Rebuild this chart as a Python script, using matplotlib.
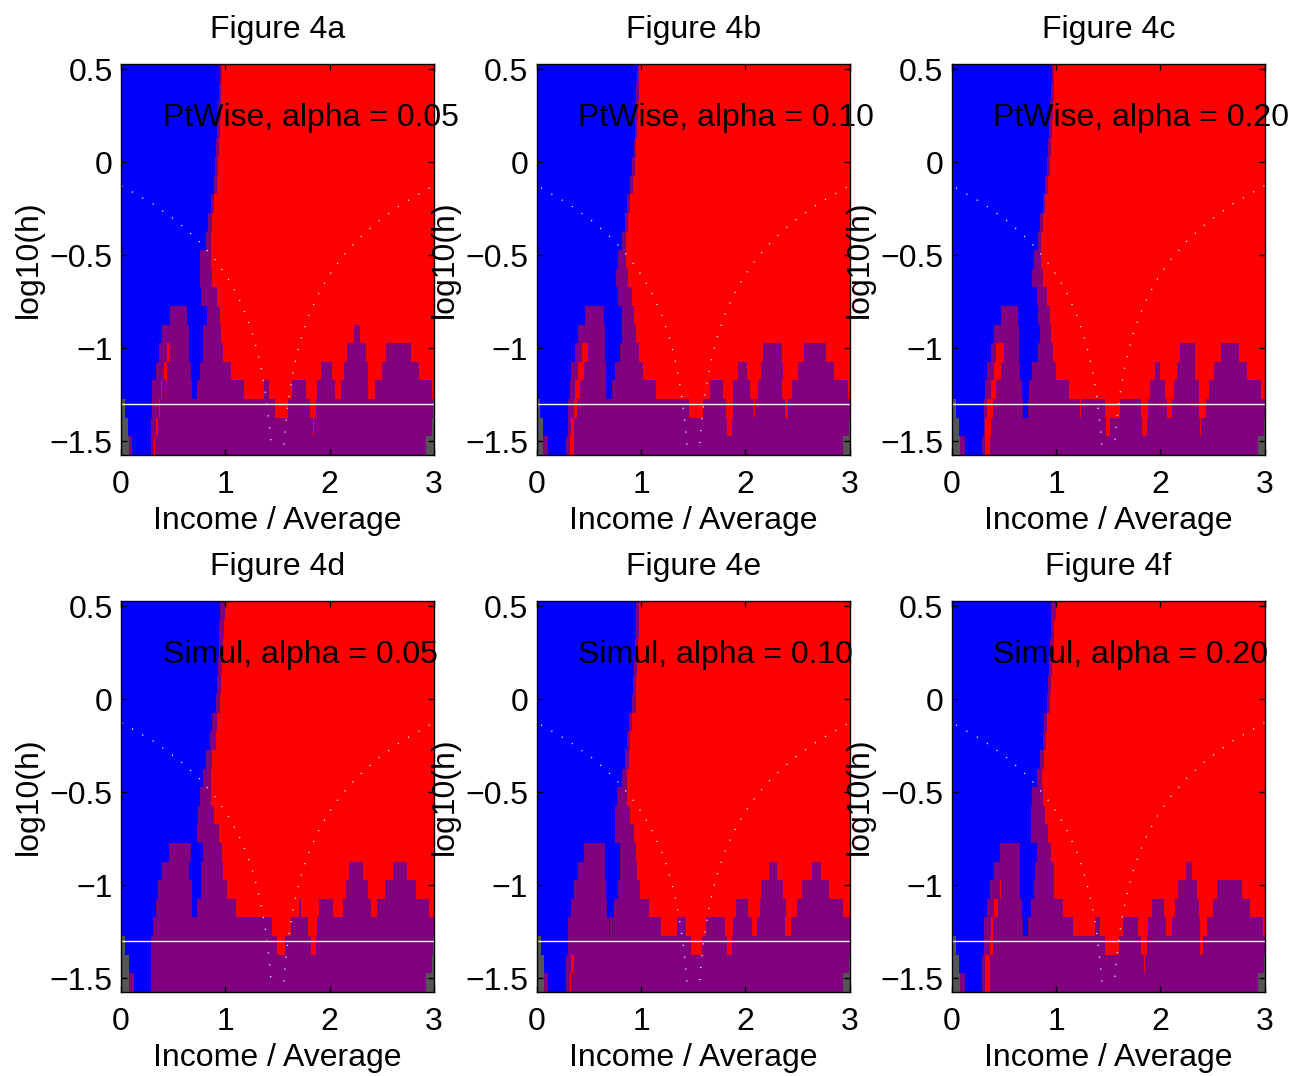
import numpy as np
import matplotlib
matplotlib.use("Agg")
import matplotlib.pyplot as plt
from matplotlib.colors import ListedColormap

plt.rcParams['font.family'] = ['Liberation Sans', 'DejaVu Sans']

# SiZer maps, one string per bandwidth row, largest h first.
# "B .95 P .97 R" = blue up to x=0.95, purple up to 0.97, red to the end
# G gray (too few data), B increasing, P not significant, R decreasing
MAP_4A = [
    "B .95 P .97 R", "B .94 P .96 R", "B .93 P .96 R", "B .92 P .95 R",
    "B .91 P .94 R", "B .90 P .93 R", "B .89 P .92 R", "B .86 P .89 R",
    "B .83 P .87 R", "B .81 P .86 R", "B .76 P .86 R", "B .76 P .87 R",
    "B .77 P .92 R",
    "B .47 P .63 B .82 P .95 R",
    "B .39 P .65 B .79 P .96 R 2.23 P 2.29 R",
    "B .36 P .44 R .47 P .65 B .79 P .98 R 2.17 P 2.35 R 2.54 P 2.78 R",
    "B .34 P .41 R .44 P .67 B .76 P 1.05 R 1.92 P 2.02 R 2.14 P 2.37 R 2.50 P 2.86 R",
    "G .01 B .30 P .38 R .39 P .68 B .73 P 1.18 R 1.37 P 1.42 R 1.64 P 1.77 R 1.88 P 2.05 R 2.11 P 2.37 R 2.43 P 2.98 R",
    "G .04 B .30 P .36 R .37 P 1.48 R 1.60 P 1.81 R 1.87 P 2.99 G",
    "G .07 B .29 P .34 R .35 P 1.84 R 1.85 P 2.98 G",
    "G .08 P .11 B .29 P .32 R .33 P 2.92 G",
]
MAP_4B = [
    "B .96 P .98 R", "B .95 P .98 R", "B .94 P .97 R", "B .94 P .96 R",
    "B .93 P .95 R", "B .91 P .94 R", "B .89 P .92 R", "B .86 P .89 R",
    "B .84 P .87 R", "B .81 P .85 R", "B .78 P .85 R", "B .76 P .87 R",
    "B .78 P .91 R",
    "B .46 P .64 B .81 P .93 R",
    "B .39 P .65 B .81 P .95 R",
    "B .36 P .43 R .49 P .65 B .80 P .98 R 2.17 P 2.35 R 2.56 P 2.77 R",
    "B .33 P .39 R .45 P .66 B .75 P 1.02 R 1.93 P 2.01 R 2.15 P 2.36 R 2.50 P 2.85 R",
    "B .32 P .36 R .41 P .66 B .72 P 1.14 R 1.66 P 1.78 R 1.88 P 2.04 R 2.12 P 2.35 R 2.44 P 2.98 R",
    "G .03 B .30 P .35 R .38 P 1.46 R 1.59 P 1.81 R 1.88 P 2.08 R 2.09 P 2.38 R 2.41 P",
    "G .06 B .30 P .33 R .35 P 1.82 R 1.87 P 2.99 G",
    "G .06 P .11 B .28 P .32 R .35 P 2.93 G",
]
MAP_4C = [
    "B .96 P .98 R", "B .95 P .98 R", "B .94 P .97 R", "B .93 P .96 R",
    "B .92 P .95 R", "B .91 P .94 R", "B .89 P .92 R", "B .87 P .89 R",
    "B .84 P .87 R", "B .82 P .85 R", "B .79 P .85 R", "B .77 P .87 R",
    "B .81 P .91 R",
    "B .47 P .63 B .82 P .94 R",
    "B .40 P .64 B .84 P .95 R",
    "B .37 P .42 R .50 P .64 B .82 P .97 R 2.19 P 2.33 R 2.58 P 2.75 R",
    "B .34 P .40 R .47 P .65 B .77 P 1.00 R 1.95 P 1.99 R 2.16 P 2.33 R 2.51 P 2.83 R",
    "B .32 P .37 R .42 P .67 B .74 P 1.12 R 1.90 P 2.04 R 2.13 P 2.37 R 2.46 P 2.96 R",
    "G .04 B .31 P .34 R .39 P .68 B .73 P 1.23 R 1.24 P 1.47 R 1.61 P 1.81 R 1.88 P 2.06 R 2.11 P 2.37 R 2.43 P",
    "G .07 B .31 P .32 R .37 P 1.48 R 1.51 P 1.82 R 1.87 P 2.38 R 2.39 P 2.99 G",
    "G .08 P .12 B .29 P .32 R .36 P 2.93 G",
]
MAP_4D = [
    "B .95 P 1.00 R", "B .94 P .99 R", "B .94 P .98 R", "B .93 P .97 R",
    "B .92 P .96 R", "B .91 P .95 R", "B .87 P .92 R", "B .85 P .91 R",
    "B .81 P .87 R", "B .79 P .86 R", "B .76 P .86 R", "B .74 P .89 R",
    "B .73 P .94 R",
    "B .46 P .67 B .79 P .97 R",
    "B .39 P .65 B .77 P .98 R 2.19 P 2.32 R 2.61 P 2.74 R",
    "B .35 P .68 B .77 P 1.02 R 2.16 P 2.37 R 2.53 P 2.83 R",
    "B .34 P .68 B .73 P 1.10 R 1.71 P 1.73 R 1.90 P 2.03 R 2.13 P 2.40 R 2.45 P 2.95 R",
    "G .01 B .31 P 1.45 R 1.63 P 1.79 R 1.88 P",
    "G .04 B .29 P 1.50 R 1.57 P 1.82 R 1.87 P 2.99 G",
    "G .08 B .29 P 2.98 G",
    "G .08 P .12 B .29 P 2.92 G",
]
MAP_4E = [
    "B .95 P .98 R", "B .95 P .98 R", "B .94 P .97 R", "B .93 P .96 R",
    "B .92 P .95 R", "B .91 P .95 R", "B .88 P .91 R", "B .86 P .89 R",
    "B .84 P .88 R", "B .81 P .86 R", "B .77 P .86 R", "B .75 P .89 R",
    "B .75 P .93 R",
    "B .45 P .65 B .80 P .95 R",
    "B .39 P .65 B .80 P .96 R 2.22 P 2.30 R 2.64 P 2.72 R",
    "B .35 P .66 B .78 P .99 R 2.15 P 2.36 R 2.54 P 2.80 R",
    "B .33 P .67 B .74 P 1.07 R 1.91 P 2.02 R 2.14 P 2.39 R 2.49 P 2.93 R",
    "B .30 P .69 B .70 P 1.19 R 1.34 P 1.43 R 1.62 P 1.80 R 1.88 P 2.06 R 2.11 P 2.38 R 2.43 P",
    "G .04 B .30 P 1.48 R 1.58 P 1.82 R 1.87 P",
    "G .07 B .28 P .33 R .35 P 2.99 G",
    "G .07 P .11 B .28 P .32 R .33 P 2.93 G",
]
MAP_4F = [
    "B .95 P 1.00 R", "B .95 P .98 R", "B .94 P .98 R", "B .93 P .96 R",
    "B .92 P .95 R", "B .91 P .94 R", "B .88 P .91 R", "B .87 P .90 R",
    "B .84 P .88 R", "B .81 P .86 R", "B .77 P .87 R", "B .76 P .89 R",
    "B .76 P .92 R",
    "B .46 P .65 B .81 P .95 R",
    "B .40 P .65 B .80 P .98 R 2.24 P 2.30 R",
    "B .36 P .46 R .47 P .65 B .79 P .98 R 2.17 P 2.35 R 2.54 P 2.78 R",
    "B .34 P .40 R .44 P .67 B .76 P 1.06 R 1.92 P 2.03 R 2.14 P 2.37 R 2.50 P 2.86 R",
    "B .31 P .37 R .39 P .68 B .73 P 1.16 R 1.37 P 1.42 R 1.64 P 1.78 R 1.88 P 2.05 R 2.11 P 2.38 R 2.44 P 2.98 R",
    "G .04 B .31 P .36 R .39 P 1.47 R 1.60 P 1.81 R 1.87 P 2.38 R 2.41 P",
    "G .07 B .29 P .32 R .36 P 1.84 R 1.85 P 2.99 G",
    "G .08 P .12 B .29 P .32 R .36 P 2.93 G",
]

TITLES = ["Figure 4a", "Figure 4b", "Figure 4c", "Figure 4d", "Figure 4e", "Figure 4f"]
NOTES = ["PtWise, alpha = 0.05", "PtWise, alpha = 0.10", "PtWise, alpha = 0.20",
         "Simul, alpha = 0.05", "Simul, alpha = 0.10", "Simul, alpha = 0.20"]

H_MIN, H_MAX, N_H = 0.03, 3.0, 21      # bandwidth grid
X_MIN, X_MAX = 0.0, 3.0
H_LINE = 0.05                          # white horizontal line
WIN_CENTER = 1.5                       # centre of the dotted window-width curves
XTICKS = [0, 1, 2, 3]
YTICKS = [-1.5, -1, -0.5, 0, 0.5]
YTICK_LABELS = ["\u22121.5", "\u22121", "\u22120.5", "0", "0.5"]

CODES = {"G": 0, "B": 1, "P": 2, "R": 3}
cmap = ListedColormap(["#555555", "#0000ff", "#800080", "#ff0000"])


def row_to_codes(row, xc):
    tok = row.split()
    cols = [CODES[t] for t in tok[0::2]]
    bounds = [float(t) for t in tok[1::2]]
    return np.array(cols)[np.searchsorted(bounds, xc)]


def build_map(rows, nx=1200):
    edges = np.linspace(X_MIN, X_MAX, nx + 1)
    xc = 0.5 * (edges[:-1] + edges[1:])
    return np.vstack([row_to_codes(r, xc) for r in rows])


log_h = np.linspace(np.log10(H_MAX), np.log10(H_MIN), N_H)
dy = (log_h[0] - log_h[-1]) / (N_H - 1)
ytop = log_h[0] + dy / 2
ybot = log_h[-1] - dy / 2

fig = plt.figure(figsize=(12.96, 10.76), dpi=100)
W, H = 1296.0, 1076.0
lefts = [121, 536.7, 951.7]
tops = [64, 601]
aw, ah = 313, 391

maps = [MAP_4A, MAP_4B, MAP_4C, MAP_4D, MAP_4E, MAP_4F]
for i, rows in enumerate(maps):
    r, c = divmod(i, 3)
    ax = fig.add_axes([lefts[c] / W, 1 - (tops[r] + ah) / H, aw / W, ah / H])
    grid = build_map(rows)
    ax.imshow(grid, cmap=cmap, vmin=-0.5, vmax=3.5, aspect="auto",
              interpolation="nearest", origin="upper",
              extent=[X_MIN, X_MAX, ybot, ytop])
    ax.axhline(np.log10(H_LINE), color="white", lw=1.0)
    hs = 10 ** log_h
    for sgn in (-1, 1):
        ax.plot(WIN_CENTER + sgn * 2 * hs, log_h, color="white", lw=1.0,
                linestyle=(0, (0.8, 7.8)), dash_capstyle="butt")
    ax.set_xlim(X_MIN, X_MAX)
    ax.set_ylim(ybot, ytop)
    ax.set_xticks(XTICKS)
    ax.set_xticklabels([str(t) for t in XTICKS])
    ax.set_yticks(YTICKS)
    ax.set_yticklabels(YTICK_LABELS)
    ax.tick_params(direction="in", top=True, right=True, length=4, width=1,
                   labelsize=23)
    ax.tick_params(axis="x", pad=11)
    ax.tick_params(axis="y", pad=6)
    for s in ax.spines.values():
        s.set_linewidth(1.0)
    ax.set_title(TITLES[i], fontsize=23, pad=19)
    ax.set_xlabel("Income / Average", fontsize=23)
    ax.set_ylabel("log10(h)", fontsize=23)
    ax.xaxis.set_label_coords(0.5, -0.131)
    ax.yaxis.set_label_coords(-0.245, 0.5)
    ax.text(0.4, 0.235, NOTES[i], fontsize=23, ha="left", va="center",
            clip_on=False)

fig.savefig("out.png", dpi=100)
